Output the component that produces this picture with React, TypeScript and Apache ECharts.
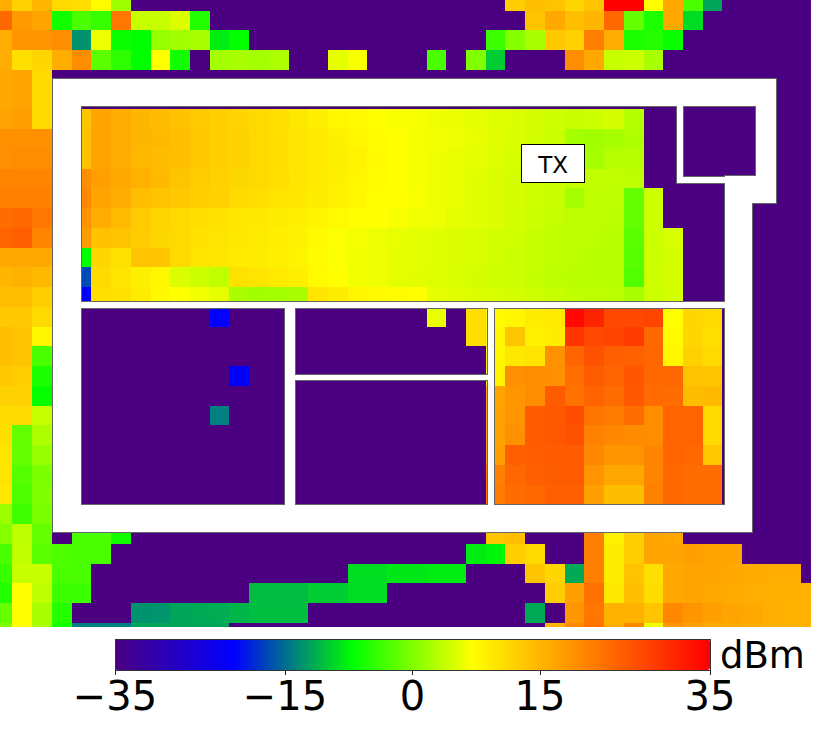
import React, { useEffect, useRef } from "react";
import * as echarts from "echarts";

const FONT = '"DejaVu Sans", sans-serif';
const FLOOR = -35;
const COLUMN_COUNT = 42;
const colorStops = ["#4b0082", "#0000ff", "#00ff00", "#ffff00", "#ff7f00", "#ff0000"];
const tickValues = [-35, -15, 0, 15, 35];

// Each row: [first column, values...] runs. Every other cell is at the -35 floor.
const row00 = [[0, 16, 12, 15, 11, 10.5, 7.3, 1.8], [26, 12.5, 14, 13.6, 11.5, 13.6, 35, 35, 7, 16.4, -3, -12]];
const row01 = [[0, 23.5, 18, 17, -6, -3, -4, 22, 3.8, 4, 5, -5], [27, 13.6, 16.4, 14, 15, 23.5, -1.5, -5.5, 16.4, -9]];
const row02 = [[0, 16, 18.5, 18.5, 19.5, -13, 6, -6.5, -7, 1.3, 1.8, 2.3, -8, -7], [25, -3.7, 0.2, 2.3, 13, 12, 21, 16, -5.5, -5, -6.5]];
const row03 = [[0, 16, 10.5, 11.5, 16, 19.5, -2, -4.5, -7, 7, -6], [11, 2, 2.3, 2, 2.5], [17, 5.6, 6.6], [22, -3], [24, 0, -9.8], [29, 19.5, 16.5, 4, 4.2, 2.3]];
const row04 = [[0, 16.5, 17, 11]];
const row05 = [[0, 16.5, 17, 11]];
const row06 = [[0, 17, 17.5, 11], [4, 13.5, 17, 16, 15, 14.3, 13.8, 12.8, 12.2, 11.7, 11, 10.5, 9.5, 8.7, 8, 7.5, 7, 6.7, 6.5, 6.2, 5.9, 5.6, 5.3, 5, 4.7, 4.2, 4, 4.2, 4.7, 2.9]];
const row07 = [[0, 19, 19, 19], [4, 13.8, 17, 16, 15, 14.5, 14, 13, 12.3, 11.8, 11.2, 10.6, 10, 9.3, 8.6, 8, 7.3, 7, 6.5, 6.3, 6, 5.7, 5.4, 5, 4.6, 4.1, 2, 1.9, 2.2, 2.6]];
const row08 = [[0, 19, 19.5, 19.5], [4, 13.8, 17, 16, 14.8, 14.3, 14, 13, 12.3, 11.8, 11.2, 10.6, 10, 9.3, 8.8, 8.2, 7.5, 7, 6.5, 6.2, 5.8, 5.5, 5.2, 4.8, 4.5, 4, 3.3, 2, 3, 3]];
const row09 = [[0, 20.5, 20.5, 20.5], [4, 19.3, 17.5, 16.5, 15.5, 14.5, 13.5, 12.6, 12, 11.4, 11, 10.5, 9.8, 9.2, 8.6, 8, 7.3, 7, 6.5, 6.1, 5.7, 5.4, 5, 4.7, 4.3, 3.9, 3.7, 3.6, 3.6, 3.4]];
const row10 = [[0, 21, 21, 21], [4, 20, 17, 16, 14, 13.6, 13, 12.5, 12, 11, 10.6, 10, 9.6, 9, 8.4, 7.9, 7.2, 7, 6.6, 6.1, 5.7, 5.3, 5, 4.7, 4.3, 3.9, 2.1, 3.5, 3.4, -1.5, 4.2]];
const row11 = [[0, 23, 23.5, 22], [4, 18.8, 16, 14.4, 12.7, 11.6, 11.2, 10.6, 10.2, 9.6, 9.4, 9, 8.6, 8.1, 7.6, 7.2, 7, 6.6, 6.3, 6, 5.6, 5.3, 5, 4.6, 4.2, 3.7, 3.4, 3.4, 3.3, -1.5, 4.2]];
const row12 = [[0, 24, 24.5, 20.5], [4, 17.8, 13.8, 13.4, 12.6, 11.4, 11, 10.2, 9.9, 9.4, 9.2, 8.8, 8.4, 7.6, 6.8, 6.4, 6, 5.7, 5.5, 5.3, 5.1, 4.9, 4.6, 4.4, 3.9, 3.5, 3.4, 3.3, 3.1, -2, 4.2, 4.8]];
const row13 = [[0, 16.5, 16.5, 16.5], [4, -7, 11.5, 10.3, 13.6, 13.2, 11.2, 10, 9.6, 9.3, 9, 8.6, 8.2, 7.4, 6.8, 6.3, 6, 5.6, 5.5, 5.3, 5, 4.8, 4.5, 4.2, 3.8, 3.5, 3.3, 3.1, 3, -2.2, 4.2, 4.6]];
const row14 = [[0, 15, 15.5, 14.5], [4, -17, 11, 10, 8.8, 8, 5, 4.2, 3.5, 10.3, 9.8, 9.3, 8.8, 7.5, 7, 6.3, 6, 5.6, 5.4, 5.2, 4.9, 4.7, 4.4, 4.2, 3.7, 3.4, 3.2, 3.1, 3, -2.5, 4.3, 4.6]];
const row15 = [[0, 14, 14, 12.5], [4, -21, 10.5, 10.3, 9, 7.8, 7, 6.3, 5.6, 2.3, 1.8, 2, 2.3, 9.8, 9, 8, 7.6, 7.4, 7, 5.6, 5.3, 5, 4.8, 4.6, 4.3, 3.8, 3.5, 3.4, 3.3, 2.3, 4.2, 4.6]];
const row16 = [[0, 13, 13, 11], [11, -21], [22, 5.7], [24, 10.5, 7.5, 8, 9, 9.3, 34, 31, 27, 27, 27.5, 7, 11.5, 11]];
const row17 = [[0, 14, 13.5, 8], [24, 10.5, 8, 13.5, 8.5, 9, 29, 27, 27.5, 28.5, 23.5, 7.5, 11.5, 10.5]];
const row18 = [[0, 14, 13.5, -3], [25, 8, 9.5, 10, 19, 24, 26, 24.5, 24.3, 23.5, 8, 12, 11]];
const row19 = [[0, 13, 12.5, -5.5], [12, -21], [25, 8.3, 19, 19.5, 19, 22.8, 25, 24, 25.5, 23.5, 23.5, 13.6, 13.2]];
const row20 = [[0, 12, 12, -6.7], [25, 17, 18.5, 19.5, 25, 22.4, 24, 23, 25.3, 23.2, 23, 14.2, 14.5]];
const row21 = [[0, 10.8, 11, 4], [11, -14], [25, 17.3, 18.5, 25, 25.3, 26.5, 22.3, 21.5, 23, 19.5, 24, 24, 11]];
const row22 = [[0, 10.5, -1.5, 2.5], [25, 17.3, 19, 25, 25.3, 26, 20.8, 20, 19.7, 19.5, 24, 24, 11]];
const row23 = [[0, 10, -1.5, 1.3], [25, 17.5, 24.5, 24.7, 25, 25, 20, 18.5, 18.7, 20.3, 24, 23.5, 13]];
const row24 = [[0, 10, -2.3, -0.2], [25, 21, 23.5, 24.5, 25, 25, 18.7, 16.7, 16.7, 20.3, 23.5, 23, 23]];
const row25 = [[0, 9.5, -2.8, 0], [25, 21.5, 23, 23.5, 24.5, 24.5, 17.5, 14.2, 14.2, 20.8, 23.5, 23, 23]];
const row26 = [[0, 1.5, -3.5, -0.3]];
const row27 = [[0, 0.2, 3.4, -1.5], [4, -3, -3, -6], [25, 13.5, 14], [30, 21, 8.5, 12.5, 17, 16.5]];
const row28 = [[0, -3, 3.6, -2, -2.8, -3, -3], [24, -8, -7.5, 12.5, 11], [30, 21, 9, 12.5, 17, 17, 17.5, 17, 17]];
const row29 = [[0, -4, 4, 4, -3, -3], [18, -8.8, -8.8, -8.3, -8.3, -8, -8], [27, 13.5, 11.5, -11.7, 21, 9, 13.5, 10.5, 16.5, 17, 17, 16.5, 16.3, 16, 16]];
const row30 = [[0, -5, 7, 3.4, -3.7, -3.7], [13, -10.6, -10.6, -10.6, -9.8, -9.8, -9, -9], [28, 12.5, 17.5, 22.5, 9.5, 14, 10.8, 16.5, 17, 16.5, 16.3, 16, 15.8, 15.8, 15.5]];
const row31 = [[0, -1.5, 7, 2.3, -5], [7, -13, -12.8, -12, -11.7, -11.5, -11, -10.5, -10.5, -10.5], [27, -11.7], [29, 18.5, 22, 15.5, 15.3, 13.3, 20, 18.5, 17.5, 17, 16.5, 16, 15.5, 15.5]];
const row32 = [[0, 0, 7, 2.3, -6, -14, -14, -14, -12, -12, -12, -12, -12], [28, 15, 20, 22.5, 16, 20, 6, 18.5, 17.5, 16.5, 16.5, 16, 15.5, 15.5, 15.3]];

const rows = [
  row00, row01, row02, row03, row04, row05, row06, row07, row08, row09, row10,
  row11, row12, row13, row14, row15, row16, row17, row18, row19, row20, row21,
  row22, row23, row24, row25, row26, row27, row28, row29, row30, row31, row32,
];

const columnNames = Array.from({ length: COLUMN_COUNT }, (_, i) => String(i));
const rowNames = rows.map((_, i) => String(i));

function buildCells(): number[][] {
  const out: number[][] = [];
  rows.forEach((runs, y) => {
    const line = new Array(COLUMN_COUNT).fill(FLOOR);
    runs.forEach(([start, ...values]) => {
      values.forEach((v, i) => {
        line[start + i] = v;
      });
    });
    line.forEach((v, x) => out.push([x, y, v]));
  });
  return out;
}

// Floor-plan walls: x0, y0, x1, y1
const walls = [
  [53, 79, 776, 105.5],
  [53, 79, 81, 532],
  [53, 505, 751.7, 532],
  [756, 105.5, 776, 176],
  [751.7, 176, 776, 202.7],
  [725, 176, 751.7, 532],
  [677, 105.5, 683, 182.5],
  [677, 176.5, 725, 182.5],
  [81, 302, 725, 307.5],
  [285, 307, 294.5, 505],
  [294.5, 374.5, 488, 380],
  [488, 307, 494, 505],
];

function wallRect(w: number[], stroke: boolean, z: number) {
  return {
    type: "rect",
    z,
    silent: true,
    shape: { x: w[0], y: w[1], width: w[2] - w[0], height: w[3] - w[1] },
    style: stroke
      ? { fill: "#ffffff", stroke: "#666666", lineWidth: 2 }
      : { fill: "#ffffff" },
  };
}

export default function App() {
  const ref = useRef<HTMLDivElement>(null);
  useEffect(() => {
    const chart = echarts.init(ref.current!, undefined, { renderer: "svg" });
    chart.setOption({
      animation: false,
      backgroundColor: "#ffffff",
      grid: [
        { left: -7, top: -9, width: 19.72 * COLUMN_COUNT, height: 19.75 * rows.length, containLabel: false, outerBoundsMode: "none" },
        { left: 115, top: 639, width: 595, height: 31, containLabel: false, outerBoundsMode: "none" },
      ],
      xAxis: [
        { type: "category", gridIndex: 0, data: columnNames, show: false },
        {
          type: "value",
          gridIndex: 1,
          min: -35,
          max: 35,
          splitLine: { show: false },
          axisLine: { show: false },
          axisTick: { show: true, length: 5, customValues: tickValues, lineStyle: { color: "#222", width: 1 } },
          axisLabel: {
            customValues: tickValues,
            fontFamily: FONT,
            fontSize: 40,
            color: "#000",
            margin: 6,
            formatter: (v: number) => (v < 0 ? "\u2212" + Math.abs(v) : String(v)),
          },
        },
      ],
      yAxis: [
        { type: "category", gridIndex: 0, data: rowNames, inverse: true, show: false },
        { type: "value", gridIndex: 1, show: false, min: 0, max: 1, splitLine: { show: false } },
      ],
      visualMap: {
        type: "continuous",
        seriesIndex: 0,
        dimension: 2,
        min: -35,
        max: 35,
        orient: "horizontal",
        left: 115,
        top: 639,
        itemWidth: 31,
        itemHeight: 595,
        padding: 0,
        calculable: false,
        hoverLink: false,
        realtime: false,
        text: null,
        showLabel: false,
        z: 200,
        inRange: { color: colorStops },
      },
      series: [
        {
          type: "heatmap",
          xAxisIndex: 0,
          yAxisIndex: 0,
          data: buildCells(),
          silent: true,
          itemStyle: { borderWidth: 0 },
          emphasis: { disabled: true },
        },
      ],
      graphic: {
        z: 100,
        elements: [
          { type: "rect", z: 100, silent: true, shape: { x: 810.7, y: 0, width: 20, height: 736 }, style: { fill: "#ffffff" } },
          { type: "rect", z: 100, silent: true, shape: { x: 0, y: 627, width: 830, height: 17 }, style: { fill: "#ffffff" } },
          ...walls.map((w) => wallRect(w, true, 101)),
          ...walls.map((w) => wallRect(w, false, 102)),
          {
            type: "rect",
            z: 110,
            silent: true,
            shape: { x: 521.7, y: 144.7, width: 63, height: 37.6 },
            style: { fill: "#ffffff", stroke: "#000000", lineWidth: 1.5 },
          },
          {
            type: "text",
            z: 111,
            silent: true,
            x: 553.2,
            y: 165,
            style: { text: "TX", fontFamily: FONT, fontSize: 23, fill: "#000", align: "center", verticalAlign: "middle" },
          },
          {
            type: "rect",
            z: 300,
            silent: true,
            shape: { x: 115, y: 639, width: 595, height: 31 },
            style: { fill: "none", stroke: "#333333", lineWidth: 1 },
          },
          {
            type: "text",
            z: 300,
            silent: true,
            x: 720,
            y: 655,
            style: { text: "dBm", fontFamily: FONT, fontSize: 37, fill: "#000", align: "left", verticalAlign: "middle" },
          },
        ],
      },
    });
    return () => chart.dispose();
  }, []);
  return (
    <>
      <style>{"svg path { shape-rendering: crispEdges; }"}</style>
      <div ref={ref} style={{ position: "fixed", left: 0, top: 0, width: 830, height: 736 }} />
    </>
  );
}
